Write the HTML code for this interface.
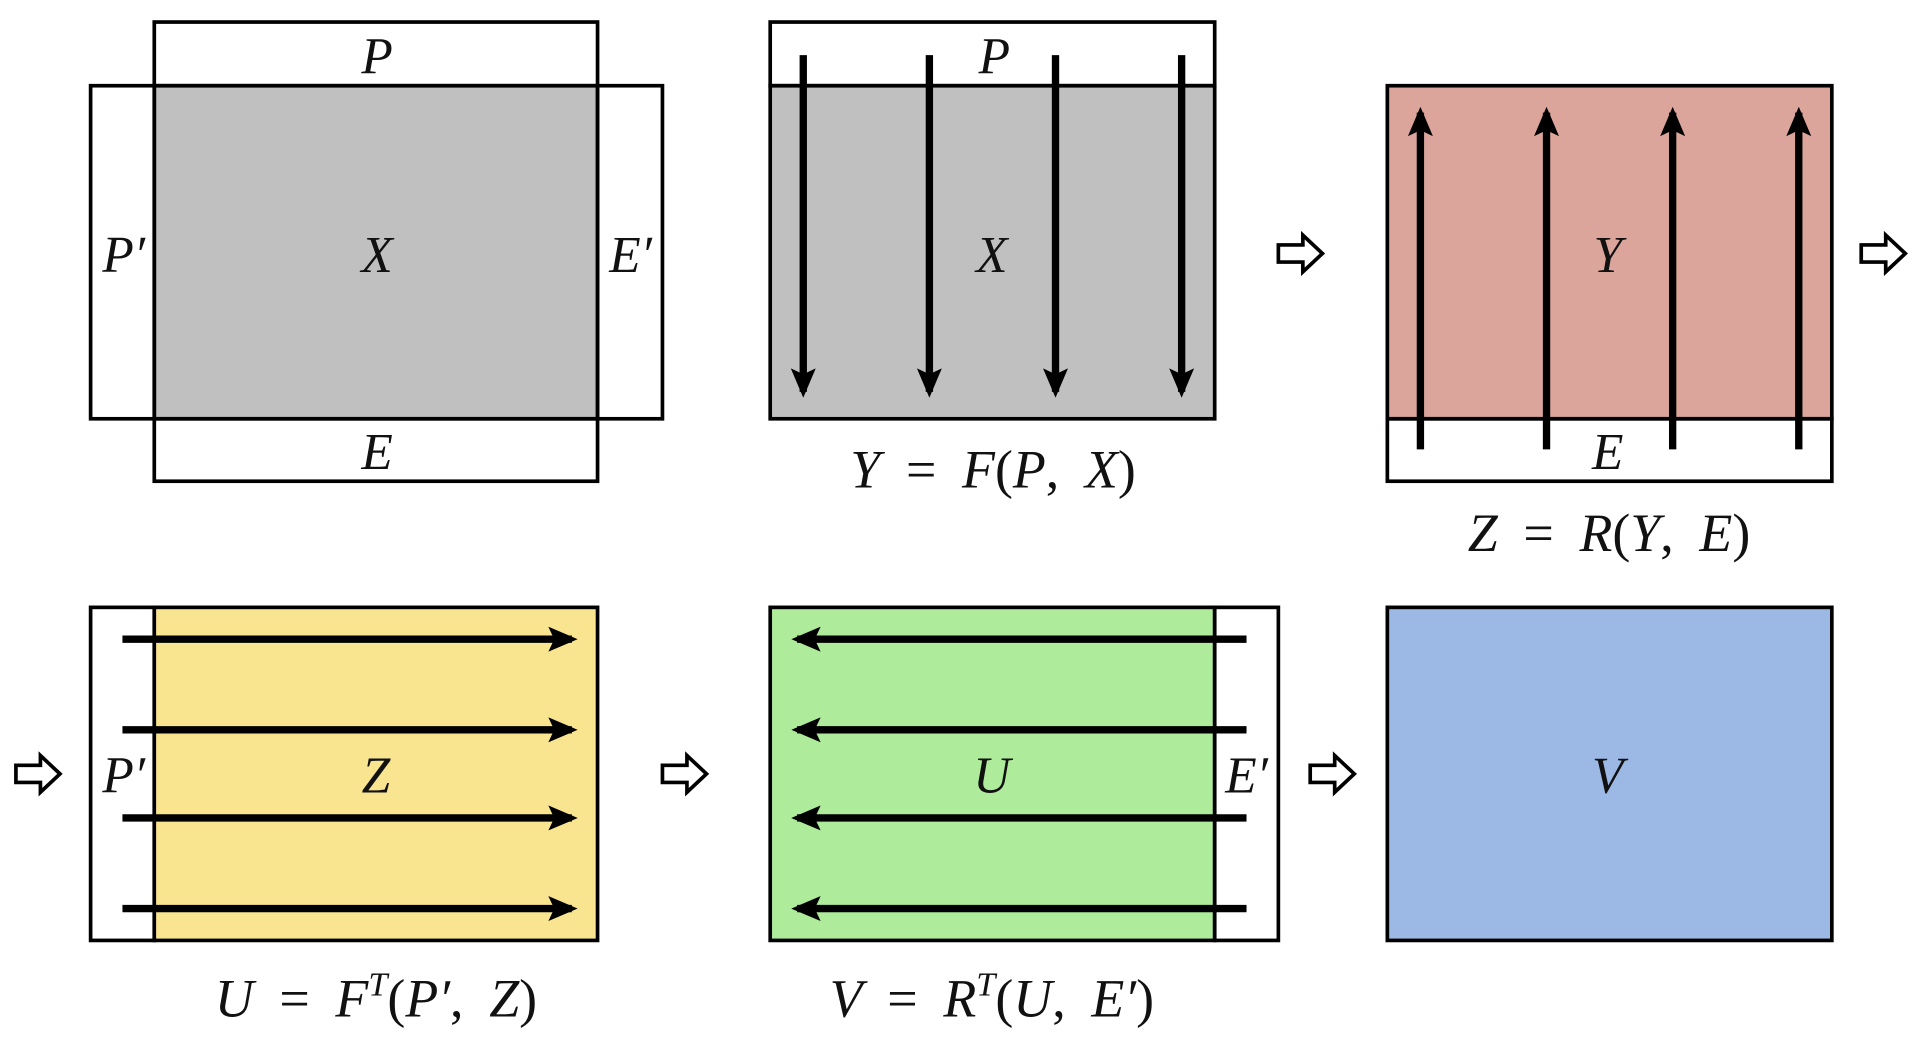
<!DOCTYPE html>
<html><head><meta charset="utf-8"><style>html,body{margin:0;padding:0;background:#fff;}svg{display:block}</style></head>
<body>
<svg width="1920" height="1039" viewBox="0 0 1568 848.5" preserveAspectRatio="none" xmlns="http://www.w3.org/2000/svg">
<defs>
<marker id="ah" markerWidth="4" markerHeight="4" refX="3.2" refY="2" orient="auto" markerUnits="strokeWidth">
<path d="M0,0.3 L4,2 L0,3.7 L0.8,2 z" fill="#000"/>
</marker>
<g id="harrow"><path d="M-18,-7 L2,-7 L2,-15 L18,0 L2,15 L2,7 L-18,7 Z" fill="#fff" stroke="#000" stroke-width="3" stroke-linejoin="miter"/></g>
</defs>
<g fill="none" stroke="#000" stroke-width="3">
<rect x="126" y="70" width="362" height="272" fill="#c0c0c0"/>
<rect x="126" y="18" width="362" height="52"/>
<rect x="126" y="342" width="362" height="51"/>
<rect x="74" y="70" width="52" height="272"/>
<rect x="488" y="70" width="53" height="272"/>
<rect x="629" y="70" width="363" height="272" fill="#c0c0c0"/>
<rect x="629" y="18" width="363" height="52"/>
<rect x="1133" y="70" width="363" height="272" fill="#dca59b"/>
<rect x="1133" y="342" width="363" height="51"/>
<rect x="74" y="496" width="52" height="272"/>
<rect x="126" y="496" width="362" height="272" fill="#f9e58f"/>
<rect x="629" y="496" width="363" height="272" fill="#aeeb9a"/>
<rect x="992" y="496" width="52" height="272"/>
<rect x="1133" y="496" width="363" height="272" fill="#9cb9e6"/>
</g>
<g stroke="#000" stroke-width="6" marker-end="url(#ah)">
<line x1="656" y1="45" x2="656" y2="320"/>
<line x1="759" y1="45" x2="759" y2="320"/>
<line x1="862" y1="45" x2="862" y2="320"/>
<line x1="965" y1="45" x2="965" y2="320"/>
<line x1="1160" y1="367" x2="1160" y2="92"/>
<line x1="1263" y1="367" x2="1263" y2="92"/>
<line x1="1366" y1="367" x2="1366" y2="92"/>
<line x1="1469" y1="367" x2="1469" y2="92"/>
<line x1="100" y1="522" x2="467" y2="522"/>
<line x1="100" y1="596" x2="467" y2="596"/>
<line x1="100" y1="668" x2="467" y2="668"/>
<line x1="100" y1="742" x2="467" y2="742"/>
<line x1="1018" y1="522" x2="651" y2="522"/>
<line x1="1018" y1="596" x2="651" y2="596"/>
<line x1="1018" y1="668" x2="651" y2="668"/>
<line x1="1018" y1="742" x2="651" y2="742"/>
</g>
<use href="#harrow" x="1062" y="207"/>
<use href="#harrow" x="1538" y="207"/>
<use href="#harrow" x="31" y="632"/>
<use href="#harrow" x="559" y="632"/>
<use href="#harrow" x="1088" y="632"/>
<g font-family="&quot;Liberation Serif&quot;, serif" font-style="italic" font-size="42" text-anchor="middle" fill="#111">
<text x="308" y="60">P</text>
<text x="308" y="222">X</text>
<text x="101" y="222">P′</text>
<text x="515" y="222">E′</text>
<text x="308" y="383">E</text>
<text x="812" y="60">P</text>
<text x="810" y="222">X</text>
<text x="1313" y="222">Y</text>
<text x="1313" y="383">E</text>
<text x="307" y="647">Z</text>
<text x="101" y="647">P′</text>
<text x="810" y="647">U</text>
<text x="1018" y="647">E′</text>
<text x="1313" y="647">V</text>
</g>
<g font-family="&quot;Liberation Serif&quot;, serif" font-style="italic" font-size="44" text-anchor="middle" fill="#111" word-spacing="10">
<text x="811" y="398">Y <tspan font-style="normal">=</tspan> F<tspan font-style="normal">(</tspan>P<tspan font-style="normal">,</tspan> X<tspan font-style="normal">)</tspan></text>
<text x="1314" y="450">Z <tspan font-style="normal">=</tspan> R<tspan font-style="normal">(</tspan>Y<tspan font-style="normal">,</tspan> E<tspan font-style="normal">)</tspan></text>
<text x="307" y="830">U <tspan font-style="normal">=</tspan> F<tspan font-size="28" dy="-17">T</tspan><tspan dy="17" font-style="normal">(</tspan>P′<tspan font-style="normal">,</tspan> Z<tspan font-style="normal">)</tspan></text>
<text x="810" y="830">V <tspan font-style="normal">=</tspan> R<tspan font-size="28" dy="-17">T</tspan><tspan dy="17" font-style="normal">(</tspan>U<tspan font-style="normal">,</tspan> E′<tspan font-style="normal">)</tspan></text>
</g>
</svg>
</body></html>
